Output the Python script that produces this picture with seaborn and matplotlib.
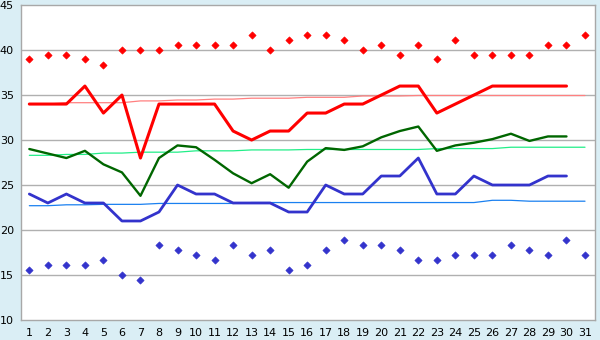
import numpy as np
import pandas as pd
import matplotlib
matplotlib.use('Agg')
import matplotlib.pyplot as plt
import seaborn as sns

days = list(range(1, 32))

# daily max / mean / min (days 1-30)
t_max = [34, 34, 34, 36, 33, 35, 28, 34, 34, 34, 34, 31, 30, 31, 31,
         33, 33, 34, 34, 35, 36, 36, 33, 34, 35, 36, 36, 36, 36, 36]
t_mean = [29.0, 28.5, 28.0, 28.8, 27.3, 26.4, 23.8, 28.0, 29.4, 29.2, 27.8, 26.3, 25.2, 26.2, 24.7,
          27.6, 29.1, 28.9, 29.3, 30.3, 31.0, 31.5, 28.8, 29.4, 29.7, 30.1, 30.7, 29.9, 30.4, 30.4]
t_min = [24, 23, 24, 23, 23, 21, 21, 22, 25, 24, 24, 23, 23, 23, 22,
         22, 25, 24, 24, 26, 26, 28, 24, 24, 26, 25, 25, 25, 26, 26]

# record high / record low (days 1-31)
rec_high = [39.0, 39.4, 39.4, 39.0, 38.3, 40.0, 40.0, 40.0, 40.6, 40.6, 40.6, 40.6, 41.7, 40.0, 41.1, 41.7,
            41.7, 41.1, 40.0, 40.6, 39.4, 40.6, 39.0, 41.1, 39.4, 39.4, 39.4, 39.4, 40.6, 40.6, 41.7]
rec_low = [15.6, 16.1, 16.1, 16.1, 16.7, 15.0, 14.4, 18.3, 17.8, 17.2, 16.7, 18.3, 17.2, 17.8, 15.6, 16.1,
           17.8, 18.9, 18.3, 18.3, 17.8, 16.7, 16.7, 17.2, 17.2, 17.2, 18.3, 17.8, 17.2, 18.9, 17.2]

# normals (days 1-31)
norm_max = [34.0, 34.0, 34.15, 34.15, 34.15, 34.15, 34.35, 34.35, 34.45, 34.45, 34.55, 34.55, 34.65, 34.65, 34.65,
            34.75, 34.75, 34.75, 34.9, 34.9, 34.9, 34.95, 34.95, 34.95, 34.95, 34.95, 34.95, 34.95, 34.95, 34.95, 34.95]
norm_mean = [28.3, 28.3, 28.4, 28.4, 28.55, 28.55, 28.65, 28.65, 28.65, 28.8, 28.8, 28.8, 28.9, 28.9, 28.9,
             28.95, 28.95, 28.95, 28.95, 28.95, 28.95, 28.95, 29.05, 29.05, 29.05, 29.05, 29.2, 29.2, 29.2, 29.2, 29.2]
norm_min = [22.7, 22.7, 22.8, 22.8, 22.85, 22.85, 22.85, 22.95, 22.95, 22.95, 22.95, 22.95, 23.05, 23.05, 23.05,
            23.05, 23.05, 23.05, 23.05, 23.05, 23.05, 23.05, 23.05, 23.05, 23.05, 23.3, 23.3, 23.2, 23.2, 23.2, 23.2]

df_obs = pd.DataFrame({'day': days[:30], 'max': t_max, 'mean': t_mean, 'min': t_min})
df_all = pd.DataFrame({'day': days, 'rec_high': rec_high, 'rec_low': rec_low,
                       'norm_max': norm_max, 'norm_mean': norm_mean, 'norm_min': norm_min})

sns.set_style('white')
plt.rcParams['font.family'] = ['DejaVu Sans']

bg = '#daeef5'
fig = plt.figure(figsize=(6, 3.4), dpi=100, facecolor=bg)
ax = fig.add_axes([0.035, 0.059, 0.957, 0.926])
ax.set_facecolor('white')

for v in range(15, 45, 5):
    ax.axhline(v, color='#b0b0b0', lw=1.0, zorder=0)

# normals
sns.lineplot(data=df_all, x='day', y='norm_max', ax=ax, color='#ff8080', lw=0.9, zorder=2)
sns.lineplot(data=df_all, x='day', y='norm_mean', ax=ax, color='#22ee88', lw=0.9, zorder=2)
sns.lineplot(data=df_all, x='day', y='norm_min', ax=ax, color='#1a80f0', lw=0.9, zorder=2)

# observed
sns.lineplot(data=df_obs, x='day', y='max', ax=ax, color='#ff0000', lw=2.2, zorder=3)
sns.lineplot(data=df_obs, x='day', y='mean', ax=ax, color='#006600', lw=1.7, zorder=3)
sns.lineplot(data=df_obs, x='day', y='min', ax=ax, color='#3333cc', lw=2.0, zorder=3)

# records
sns.scatterplot(data=df_all, x='day', y='rec_high', ax=ax, color='#ff0000', marker='D', s=14,
                edgecolor='#ff0000', linewidth=0.4, zorder=4)
sns.scatterplot(data=df_all, x='day', y='rec_low', ax=ax, color='#3333cc', marker='D', s=14,
                edgecolor='#3333cc', linewidth=0.4, zorder=4)

ax.set_xlim(0.55, 31.55)
ax.set_ylim(10, 45)
ax.set_xticks(days)
ax.set_yticks(range(10, 50, 5))
ax.set_xlabel('')
ax.set_ylabel('')
ax.tick_params(axis='both', labelsize=8, colors='#000000', length=4, width=0.8,
               direction='out', pad=2)
ax.tick_params(axis='x', color='#333333')
ax.tick_params(axis='y', color='#333333', length=3)
for sp in ax.spines.values():
    sp.set_color('#a8a8a8')
    sp.set_linewidth(1.0)

fig.savefig('out.png', dpi=100, facecolor=bg)
